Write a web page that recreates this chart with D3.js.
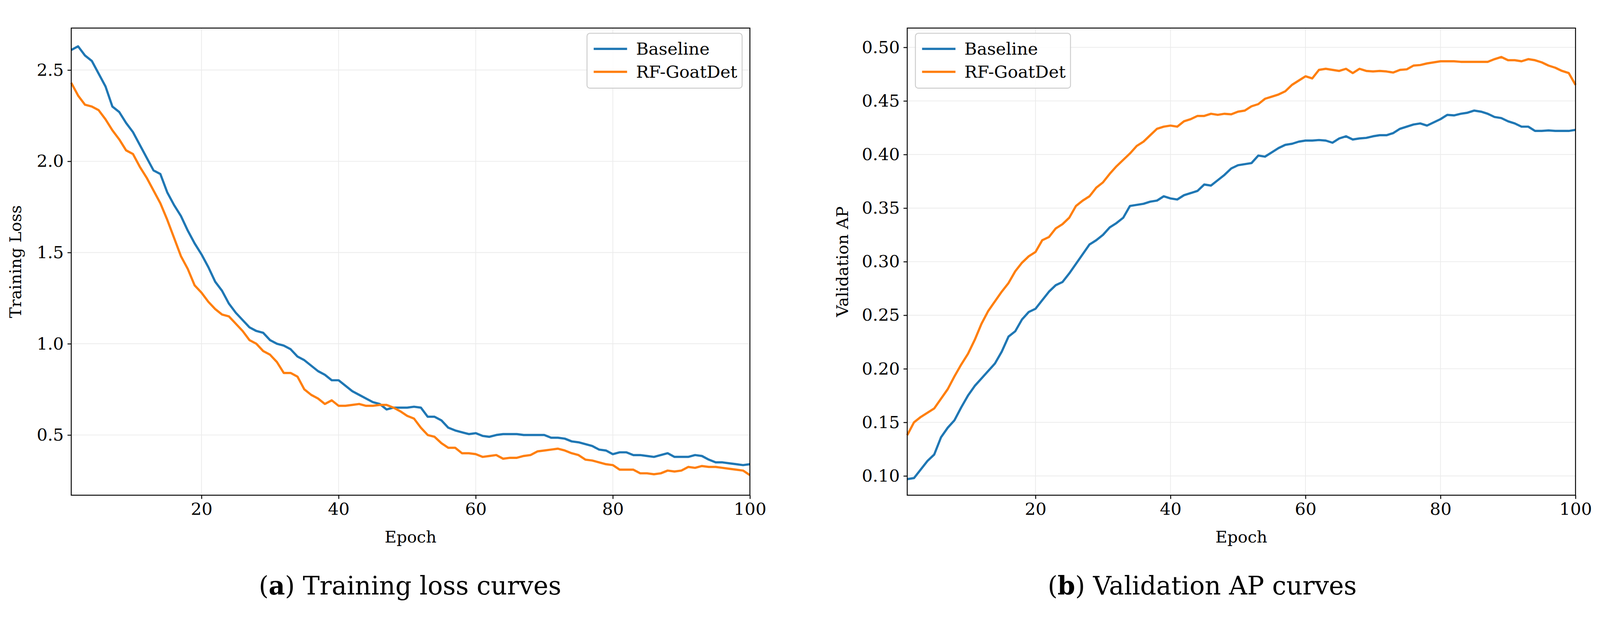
<!DOCTYPE html>
<html>
<head>
<meta charset="utf-8">
<script src="https://cdn.jsdelivr.net/npm/d3@7"></script>
<style>
  html, body { margin: 0; padding: 0; background: #fff; overflow: hidden; }
  svg { display: block; width: 100vw; height: 100vh; }
  text { font-family: "DejaVu Serif", serif; }
</style>
</head>
<body>
<svg id="fig" viewBox="0 0 4312 1618" preserveAspectRatio="xMidYMid meet"></svg>
<script>
// epochs 1..100
const epochs = d3.range(1, 101);

const lossBaseline = [2.61,2.63,2.58,2.55,2.48,2.41,2.30,2.27,2.21,2.16,2.09,2.02,1.95,1.93,1.83,1.76,1.70,1.62,1.55,1.49,
  1.42,1.34,1.29,1.22,1.17,1.13,1.09,1.07,1.06,1.02,1.00,0.99,0.97,0.93,0.91,0.88,0.85,0.83,0.80,0.80,
  0.77,0.74,0.72,0.70,0.68,0.67,0.64,0.65,0.65,0.65,0.655,0.65,0.60,0.60,0.58,0.54,0.525,0.515,0.505,0.51,
  0.495,0.49,0.50,0.505,0.505,0.505,0.50,0.50,0.50,0.50,0.485,0.485,0.48,0.465,0.46,0.45,0.44,0.42,0.415,0.395,
  0.405,0.405,0.39,0.39,0.385,0.38,0.39,0.40,0.38,0.38,0.38,0.39,0.385,0.365,0.35,0.35,0.345,0.34,0.335,0.34];
const lossRF = [2.43,2.36,2.31,2.30,2.28,2.23,2.17,2.12,2.06,2.04,1.97,1.91,1.84,1.77,1.68,1.58,1.48,1.41,1.32,1.28,
  1.23,1.19,1.16,1.15,1.11,1.07,1.02,1.00,0.96,0.94,0.90,0.84,0.84,0.82,0.75,0.72,0.70,0.67,0.69,0.66,
  0.66,0.665,0.67,0.66,0.66,0.665,0.665,0.65,0.63,0.605,0.59,0.54,0.50,0.49,0.455,0.43,0.43,0.40,0.40,0.395,
  0.38,0.385,0.39,0.37,0.375,0.375,0.385,0.39,0.41,0.415,0.42,0.425,0.415,0.40,0.39,0.365,0.36,0.35,0.34,0.335,
  0.31,0.31,0.31,0.29,0.29,0.285,0.29,0.305,0.30,0.305,0.325,0.32,0.33,0.325,0.325,0.32,0.315,0.31,0.305,0.28];
const apBaseline = [0.097,0.098,0.106,0.114,0.120,0.136,0.145,0.152,0.164,0.175,0.184,0.191,0.198,0.205,0.216,0.230,0.235,0.246,0.253,0.256,
  0.264,0.272,0.278,0.281,0.289,0.298,0.307,0.316,0.320,0.325,0.332,0.336,0.341,0.352,0.353,0.354,0.356,0.357,0.361,0.359,
  0.358,0.362,0.364,0.366,0.372,0.371,0.376,0.381,0.387,0.390,0.391,0.392,0.399,0.398,0.402,0.406,0.409,0.410,0.412,0.413,
  0.413,0.4135,0.413,0.411,0.415,0.417,0.414,0.415,0.4155,0.417,0.418,0.418,0.420,0.424,0.426,0.428,0.429,0.427,0.430,0.433,
  0.437,0.4365,0.438,0.439,0.441,0.440,0.438,0.435,0.434,0.431,0.429,0.426,0.426,0.422,0.422,0.4225,0.422,0.422,0.422,0.423];
const apRF = [0.138,0.150,0.155,0.159,0.163,0.172,0.181,0.193,0.204,0.214,0.227,0.242,0.254,0.263,0.272,0.280,0.291,0.299,0.305,0.309,
  0.320,0.323,0.331,0.335,0.341,0.352,0.357,0.361,0.369,0.374,0.382,0.389,0.395,0.401,0.408,0.412,0.418,0.424,0.426,0.427,
  0.426,0.431,0.433,0.436,0.436,0.438,0.437,0.438,0.4375,0.440,0.441,0.445,0.447,0.452,0.454,0.456,0.459,0.465,0.469,0.473,
  0.471,0.479,0.480,0.479,0.478,0.480,0.476,0.480,0.478,0.4775,0.478,0.4775,0.4765,0.479,0.4795,0.483,0.4835,0.485,0.486,0.487,
  0.487,0.487,0.4865,0.4865,0.4865,0.4865,0.4865,0.489,0.491,0.488,0.488,0.487,0.489,0.488,0.486,0.483,0.481,0.478,0.476,0.465];

const xTicks = [20, 40, 60, 80, 100];
const lossTicks = [0.5, 1.0, 1.5, 2.0, 2.5];
const apTicks = [0.10, 0.15, 0.20, 0.25, 0.30, 0.35, 0.40, 0.45, 0.50];
const seriesNames = ["Baseline", "RF-GoatDet"];
const seriesColors = ["#1f77b4", "#ff7f0e"];

const svg = d3.select("#fig");

function panel(opt) {
  const x = d3.scaleLinear().domain([1, 100]).range([opt.x0, opt.x1]);
  const y = d3.scaleLinear().domain(opt.yDomain).range([opt.y1, opt.y0]);
  const g = svg.append("g");

  // grid
  g.selectAll(".gx").data(xTicks).enter().append("line")
    .attr("x1", d => x(d)).attr("x2", d => x(d)).attr("y1", opt.y0).attr("y2", opt.y1)
    .attr("stroke", "#ebebeb").attr("stroke-width", 2);
  g.selectAll(".gy").data(opt.yTicks).enter().append("line")
    .attr("y1", d => y(d)).attr("y2", d => y(d)).attr("x1", opt.x0).attr("x2", opt.x1)
    .attr("stroke", "#ebebeb").attr("stroke-width", 2);

  // axes
  const xa = g.append("g").attr("transform", `translate(0,${opt.y1})`)
    .call(d3.axisBottom(x).tickValues(xTicks).tickSize(10).tickPadding(10));
  const ya = g.append("g").attr("transform", `translate(${opt.x0},0)`)
    .call(d3.axisLeft(y).tickValues(opt.yTicks).tickSize(10).tickPadding(10).tickFormat(opt.fmt));
  [xa, ya].forEach(a => {
    a.select(".domain").remove();
    a.selectAll("line").attr("stroke", "#000").attr("stroke-width", 2.5);
    a.selectAll("text").attr("font-size", 46).attr("font-family", "Liberation Serif").attr("fill", "#000");
  });

  // lines
  const line = d3.line().x((d, i) => x(epochs[i])).y(d => y(d));
  opt.series.forEach((s, i) => {
    g.append("path").datum(s).attr("d", line)
      .attr("fill", "none").attr("stroke", seriesColors[i]).attr("stroke-width", 6)
      .attr("stroke-linejoin", "round");
  });

  // frame
  g.append("rect").attr("x", opt.x0).attr("y", opt.y0)
    .attr("width", opt.x1 - opt.x0).attr("height", opt.y1 - opt.y0)
    .attr("fill", "none").attr("stroke", "#000").attr("stroke-width", 2.5);

  // labels
  g.append("text").attr("x", (opt.x0 + opt.x1) / 2).attr("y", 1420)
    .attr("text-anchor", "middle").attr("font-size", 44).text("Epoch");
  g.append("text").attr("transform", `translate(${opt.x0 - opt.yLabOff},${(opt.y0 + opt.y1) / 2}) rotate(-90)`)
    .attr("text-anchor", "middle").attr("font-size", 44).text(opt.yLabel);

  // legend
  const lg = g.append("g").attr("transform", `translate(${opt.legX},${opt.y0 + 14})`);
  lg.append("rect").attr("width", 418).attr("height", 148).attr("rx", 8)
    .attr("fill", "#fff").attr("fill-opacity", 0.85).attr("stroke", "#cccccc").attr("stroke-width", 2.5);
  seriesNames.forEach((n, i) => {
    lg.append("line").attr("x1", 18).attr("x2", 108).attr("y1", 42 + i * 62).attr("y2", 42 + i * 62)
      .attr("stroke", seriesColors[i]).attr("stroke-width", 6);
    lg.append("text").attr("x", 132).attr("y", 42 + i * 62).attr("dy", "0.35em")
      .attr("font-size", 46).attr("font-family", "Liberation Serif").text(n);
  });

  // caption
  const cap = svg.append("text").attr("x", opt.capX).attr("y", 1560)
    .attr("text-anchor", "middle").attr("font-size", 68).attr("font-family", "Liberation Serif");
  cap.append("tspan").text("(");
  cap.append("tspan").attr("font-weight", "bold").text(opt.capLetter);
  cap.append("tspan").text(") " + opt.caption);
}

panel({
  x0: 192, x1: 2021, y0: 33, y1: 1292,
  yDomain: [0.17, 2.73], yTicks: lossTicks, fmt: d3.format(".1f"),
  series: [lossBaseline, lossRF], yLabel: "Training Loss", yLabOff: 135,
  legX: 1582, capX: 1105, capLetter: "a", caption: "Training loss curves"
});
panel({
  x0: 2445, x1: 4246, y0: 33, y1: 1292,
  yDomain: [0.082, 0.518], yTicks: apTicks, fmt: d3.format(".2f"),
  series: [apBaseline, apRF], yLabel: "Validation AP", yLabOff: 160,
  legX: 2467, capX: 3240, capLetter: "b", caption: "Validation AP curves"
});
</script>
</body>
</html>
